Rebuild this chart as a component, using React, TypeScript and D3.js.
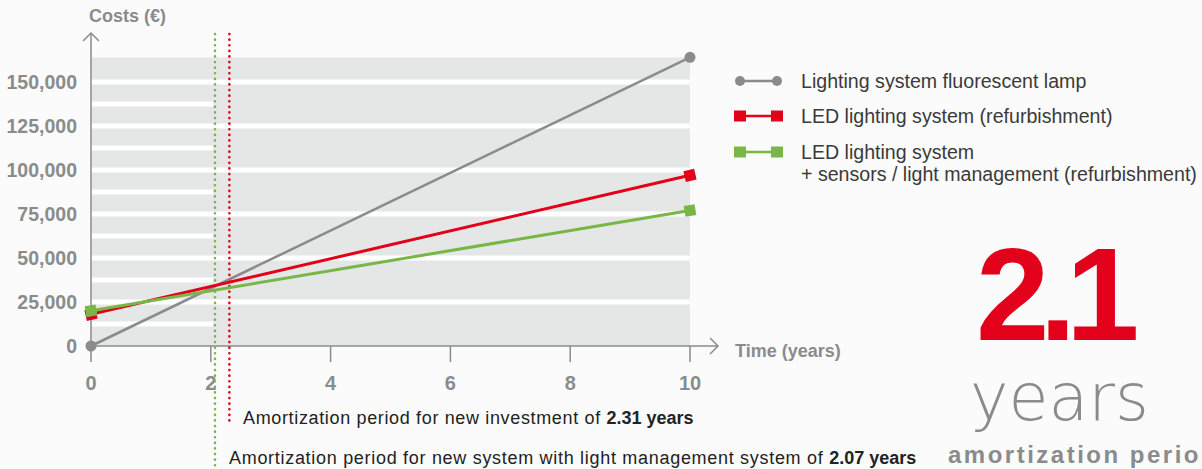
import React from 'react';
import * as d3 from 'd3';

const years = [0, 10];
const fluorescent = [0, 164000];
const ledRefurb = [18000, 97000];
const ledSensors = [20000, 77000];
const yTicks = [0, 25000, 50000, 75000, 100000, 125000, 150000];
const halfTicks = [12500, 37500, 62500, 87500, 112500, 137500];
const xTicks = [0, 2, 4, 6, 8, 10];
const amortLed = 2.31;
const amortSensors = 2.07;
const legendLabels = [
  ['Lighting system fluorescent lamp'],
  ['LED lighting system (refurbishment)'],
  ['LED lighting system', '+ sensors / light management (refurbishment)'],
];

const W = 1202;
const H = 469;
const GREY = '#8a8b8c';
const RED = '#e2001a';
const GREEN = '#78b746';
const FONT = '"Liberation Sans", Arial, sans-serif';

const x = d3.scaleLinear().domain([0, 10]).range([91, 690]);
const y = d3.scaleLinear().domain([0, 150000]).range([346, 82]);

const line = d3.line<number>().x((_, i) => x(years[i])).y(d => y(d));

function Square({ cx, cy, angle, color }: { cx: number; cy: number; angle: number; color: string }) {
  return (
    <rect x={-5.5} y={-5.5} width={11} height={11} fill={color}
      transform={`translate(${cx},${cy}) rotate(${angle})`} />
  );
}

const angleOf = (vals: number[]) =>
  (Math.atan2(y(vals[1]) - y(vals[0]), x(years[1]) - x(years[0])) * 180) / Math.PI;

const App: React.FC = () => {
  const x0 = x(0);
  const y0 = y(0);
  const topY = y(164000);
  const xGreen = x(amortSensors);
  const xRed = x(amortLed);
  const fmt = d3.format(',');

  return (
    <div style={{ position: 'absolute', left: 0, top: 0 }}>
      <svg width={W} height={H} style={{ display: 'block', background: '#fbfbfb' }} fontFamily={FONT}>
        {/* plot background */}
        <rect x={x0} y={topY} width={x(10) - x0} height={y0 - topY} fill="#e5e6e6" />
        {yTicks.slice(1).map(t => (
          <rect key={t} x={x0} y={y(t) - 2.5} width={x(10) - x0} height={5} fill="#fff" />
        ))}
        {halfTicks.map(t => (
          <rect key={t} x={x0} y={y(t) - 2.5} width={xGreen - 2 - x0} height={5} fill="#fff" />
        ))}

        {/* axes */}
        <line x1={x0} x2={x0} y1={33} y2={362} stroke={GREY} strokeWidth={1.5} />
        <polyline points={`${x0 - 8},${41} ${x0},${33} ${x0 + 8},${41}`} fill="none" stroke={GREY} strokeWidth={1.5} />
        <line x1={x0} x2={718} y1={y0} y2={y0} stroke={GREY} strokeWidth={1.5} />
        <polyline points={`${710},${y0 - 8} ${718},${y0} ${710},${y0 + 8}`} fill="none" stroke={GREY} strokeWidth={1.5} />
        {xTicks.slice(1).map(t => (
          <line key={t} x1={x(t)} x2={x(t)} y1={y0} y2={y0 + 16} stroke={GREY} strokeWidth={1.5} />
        ))}
        {xTicks.map(t => (
          <text key={t} x={x(t)} y={390} textAnchor="middle" fontSize={20} fontWeight="bold" fill={GREY}>{t}</text>
        ))}
        {yTicks.map(t => (
          <text key={t} x={77} y={y(t) + 7} textAnchor="end" fontSize={19.5} fontWeight="bold" fill={GREY}>{fmt(t)}</text>
        ))}
        <text x={89} y={22} fontSize={18} fontWeight="bold" fill={GREY}>Costs (€)</text>
        <text x={735} y={357} fontSize={18} fontWeight="bold" fill={GREY}>Time (years)</text>

        {/* amortization markers */}
        <line x1={xGreen} x2={xGreen} y1={34} y2={466} stroke={GREEN} strokeWidth={2.6}
          strokeLinecap="round" strokeDasharray="0.1 5.5" />
        <line x1={xRed} x2={xRed} y1={34} y2={426} stroke={RED} strokeWidth={2.6}
          strokeLinecap="round" strokeDasharray="0.1 5.5" />
        <text x={243} y={424} fontSize={18} letterSpacing={0.65} fill="#222">
          Amortization period for new investment of <tspan fontWeight="bold" letterSpacing={0}>{amortLed} years</tspan>
        </text>
        <text x={229} y={464} fontSize={18} letterSpacing={0.7} fill="#222">
          Amortization period for new system with light management system of <tspan fontWeight="bold" letterSpacing={0}>{amortSensors} years</tspan>
        </text>

        {/* series */}
        <path d={line(fluorescent) || ''} fill="none" stroke={GREY} strokeWidth={2.5} />
        <path d={line(ledRefurb) || ''} fill="none" stroke={RED} strokeWidth={3} />
        <path d={line(ledSensors) || ''} fill="none" stroke={GREEN} strokeWidth={3} />
        {fluorescent.map((v, i) => (
          <circle key={i} cx={x(years[i])} cy={y(v)} r={5.5} fill={GREY} />
        ))}
        {ledRefurb.map((v, i) => (
          <Square key={i} cx={x(years[i])} cy={y(v)} angle={angleOf(ledRefurb)} color={RED} />
        ))}
        {ledSensors.map((v, i) => (
          <Square key={i} cx={x(years[i])} cy={y(v)} angle={angleOf(ledSensors)} color={GREEN} />
        ))}

        {/* legend */}
        {[GREY, RED, GREEN].map((c, i) => {
          const ly = [81, 116, 152][i];
          return (
            <g key={c}>
              <line x1={740} x2={777} y1={ly} y2={ly} stroke={c} strokeWidth={2.5} />
              {i === 0 ? (
                <>
                  <circle cx={740} cy={ly} r={5} fill={c} />
                  <circle cx={777} cy={ly} r={5} fill={c} />
                </>
              ) : (
                <>
                  <rect x={734} y={ly - 5.5} width={12} height={11} fill={c} />
                  <rect x={771} y={ly - 5.5} width={12} height={11} fill={c} />
                </>
              )}
              {legendLabels[i].map((s, j) => (
                <text key={j} x={801} y={ly + 7 + j * 22} fontSize={19.6} fill="#3a3a3a">{s}</text>
              ))}
            </g>
          );
        })}

        {/* headline figure */}
        <text x={976} y={340} fontSize={132} fontWeight="bold" fill={RED} letterSpacing={-10}>2.1</text>
        <text x={970} y={420} fontSize={65} fill={GREY} fontWeight={200} fontFamily='"DejaVu Sans", sans-serif'>years</text>
        <text x={948} y={463} fontSize={24} fontWeight="bold" fill={GREY} letterSpacing={2.5}>amortization period</text>
      </svg>
    </div>
  );
};

export default App;
